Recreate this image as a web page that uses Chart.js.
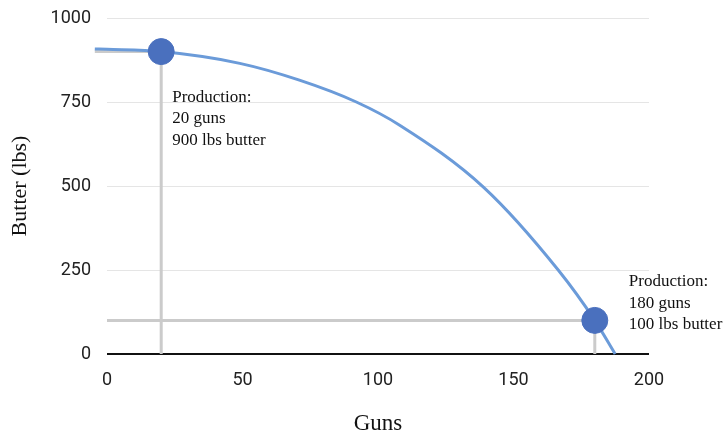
<!DOCTYPE html>
<html>
<head>
<meta charset="utf-8">
<script src="https://cdn.jsdelivr.net/npm/chart.js@4"></script>
<style>
  html, body { margin: 0; padding: 0; background: #fff; }
  #ppf { display: block; }
</style>
</head>
<body>
<canvas id="ppf" width="726" height="435"></canvas>
<script>
// 生产可能性曲线 (guns vs butter)
const gunsCurve = [-4.5, 0, 20, 49, 71, 92, 108, 139, 166.5, 180, 187.5];
const butterCurve = [908, 907, 900, 865, 815, 750, 681, 496, 250, 100, 0];

// 两个生产点
const prodGuns = [20, 180];
const prodButter = [900, 100];
const prodLabels = [
  ["Production:", "20 guns", "900 lbs butter"],
  ["Production:", "180 guns", "100 lbs butter"],
];

// 坐标轴刻度
const xTicks = [0, 50, 100, 150, 200];
const yTicks = [0, 250, 500, 750, 1000];
const guideStartX = -4.5; // 第一条辅助线从轴左边开始

const curvePoints = gunsCurve.map((g, i) => ({ x: g, y: butterCurve[i] }));
const dotPoints = prodGuns.map((g, i) => ({ x: g, y: prodButter[i] }));

// 灰色辅助线
const guide1 = [
  { x: guideStartX, y: prodButter[0] },
  { x: prodGuns[0], y: prodButter[0] },
  { x: prodGuns[0], y: 0 },
];
const guide2 = [
  { x: 0, y: prodButter[1] },
  { x: prodGuns[1], y: prodButter[1] },
  { x: prodGuns[1], y: 0 },
];

// 注释文字
const notePlugin = {
  id: "notes",
  afterDatasetsDraw(chart) {
    const ctx = chart.ctx;
    const xs = chart.scales.x;
    const ys = chart.scales.y;
    const offsets = [
      { dx: 11, dy: 50 },
      { dx: 34, dy: -34 },
    ];
    ctx.save();
    ctx.fillStyle = "#111";
    ctx.font = "17px 'Liberation Serif', serif";
    ctx.textAlign = "left";
    ctx.textBaseline = "alphabetic";
    for (let i = 0; i < prodGuns.length; i++) {
      const px = xs.getPixelForValue(prodGuns[i]) + offsets[i].dx;
      const py = ys.getPixelForValue(prodButter[i]) + offsets[i].dy;
      prodLabels[i].forEach((line, j) => {
        ctx.fillText(line, px, py + j * 21.5);
      });
    }
    ctx.restore();
  },
};

const chart = new Chart(document.getElementById("ppf").getContext("2d"), {
  type: "line",
  data: {
    datasets: [
      {
        type: "scatter",
        data: dotPoints,
        backgroundColor: "#4a70be",
        borderColor: "#4a70be",
        pointRadius: 13,
        pointHoverRadius: 13,
        showLine: false,
        order: 0,
      },
      {
        data: curvePoints,
        borderColor: "#6b9bd9",
        borderWidth: 3,
        pointRadius: 0,
        cubicInterpolationMode: "monotone",
        fill: false,
        clip: false,
        order: 1,
      },
      {
        data: guide1,
        borderColor: "#cbcbcb",
        borderWidth: 3,
        pointRadius: 0,
        tension: 0,
        clip: false,
        order: 2,
      },
      {
        data: guide2,
        borderColor: "#cbcbcb",
        borderWidth: 3,
        pointRadius: 0,
        tension: 0,
        clip: false,
        order: 2,
      },
    ],
  },
  options: {
    responsive: false,
    animation: false,
    events: [],
    layout: { padding: { top: 18, right: 77, left: 0, bottom: 0 } },
    plugins: {
      legend: { display: false },
      tooltip: { enabled: false },
    },
    scales: {
      x: {
        type: "linear",
        min: 0,
        max: 200,
        afterFit: (s) => {
          s.height = 81;
          s.paddingLeft = 0;
          s.paddingRight = 0;
        },
        afterBuildTicks: (s) => { s.ticks = xTicks.map((v) => ({ value: v })); },
        grid: { display: false, drawTicks: false },
        border: { display: false },
        ticks: {
          padding: 16,
          color: "#222",
          font: { family: "Roboto", size: 18 },
          callback: (v) => String(v),
        },
        title: {
          display: true,
          text: "Guns",
          color: "#111",
          font: { family: "'Liberation Serif'", size: 23, lineHeight: 1 },
          padding: { top: 0, bottom: 0 },
        },
      },
      y: {
        type: "linear",
        min: 0,
        max: 1000,
        afterFit: (s) => {
          s.width = 107;
          s.paddingTop = 0;
          s.paddingBottom = 0;
        },
        afterBuildTicks: (s) => { s.ticks = yTicks.map((v) => ({ value: v })); },
        grid: {
          drawTicks: false,
          color: (c) => (c.tick && c.tick.value === 0 ? "#111" : "#e5e5e5"),
          lineWidth: (c) => (c.tick && c.tick.value === 0 ? 2 : 1),
        },
        border: { display: false },
        ticks: {
          padding: 16,
          color: "#222",
          font: { family: "Roboto", size: 18 },
          callback: (v) => String(v),
        },
        title: {
          display: true,
          text: "Butter (lbs)",
          color: "#111",
          font: { family: "'Liberation Serif'", size: 22, lineHeight: 1 },
          padding: { top: 9, bottom: 0 },
        },
      },
    },
  },
  plugins: [notePlugin],
});
</script>
</body>
</html>
